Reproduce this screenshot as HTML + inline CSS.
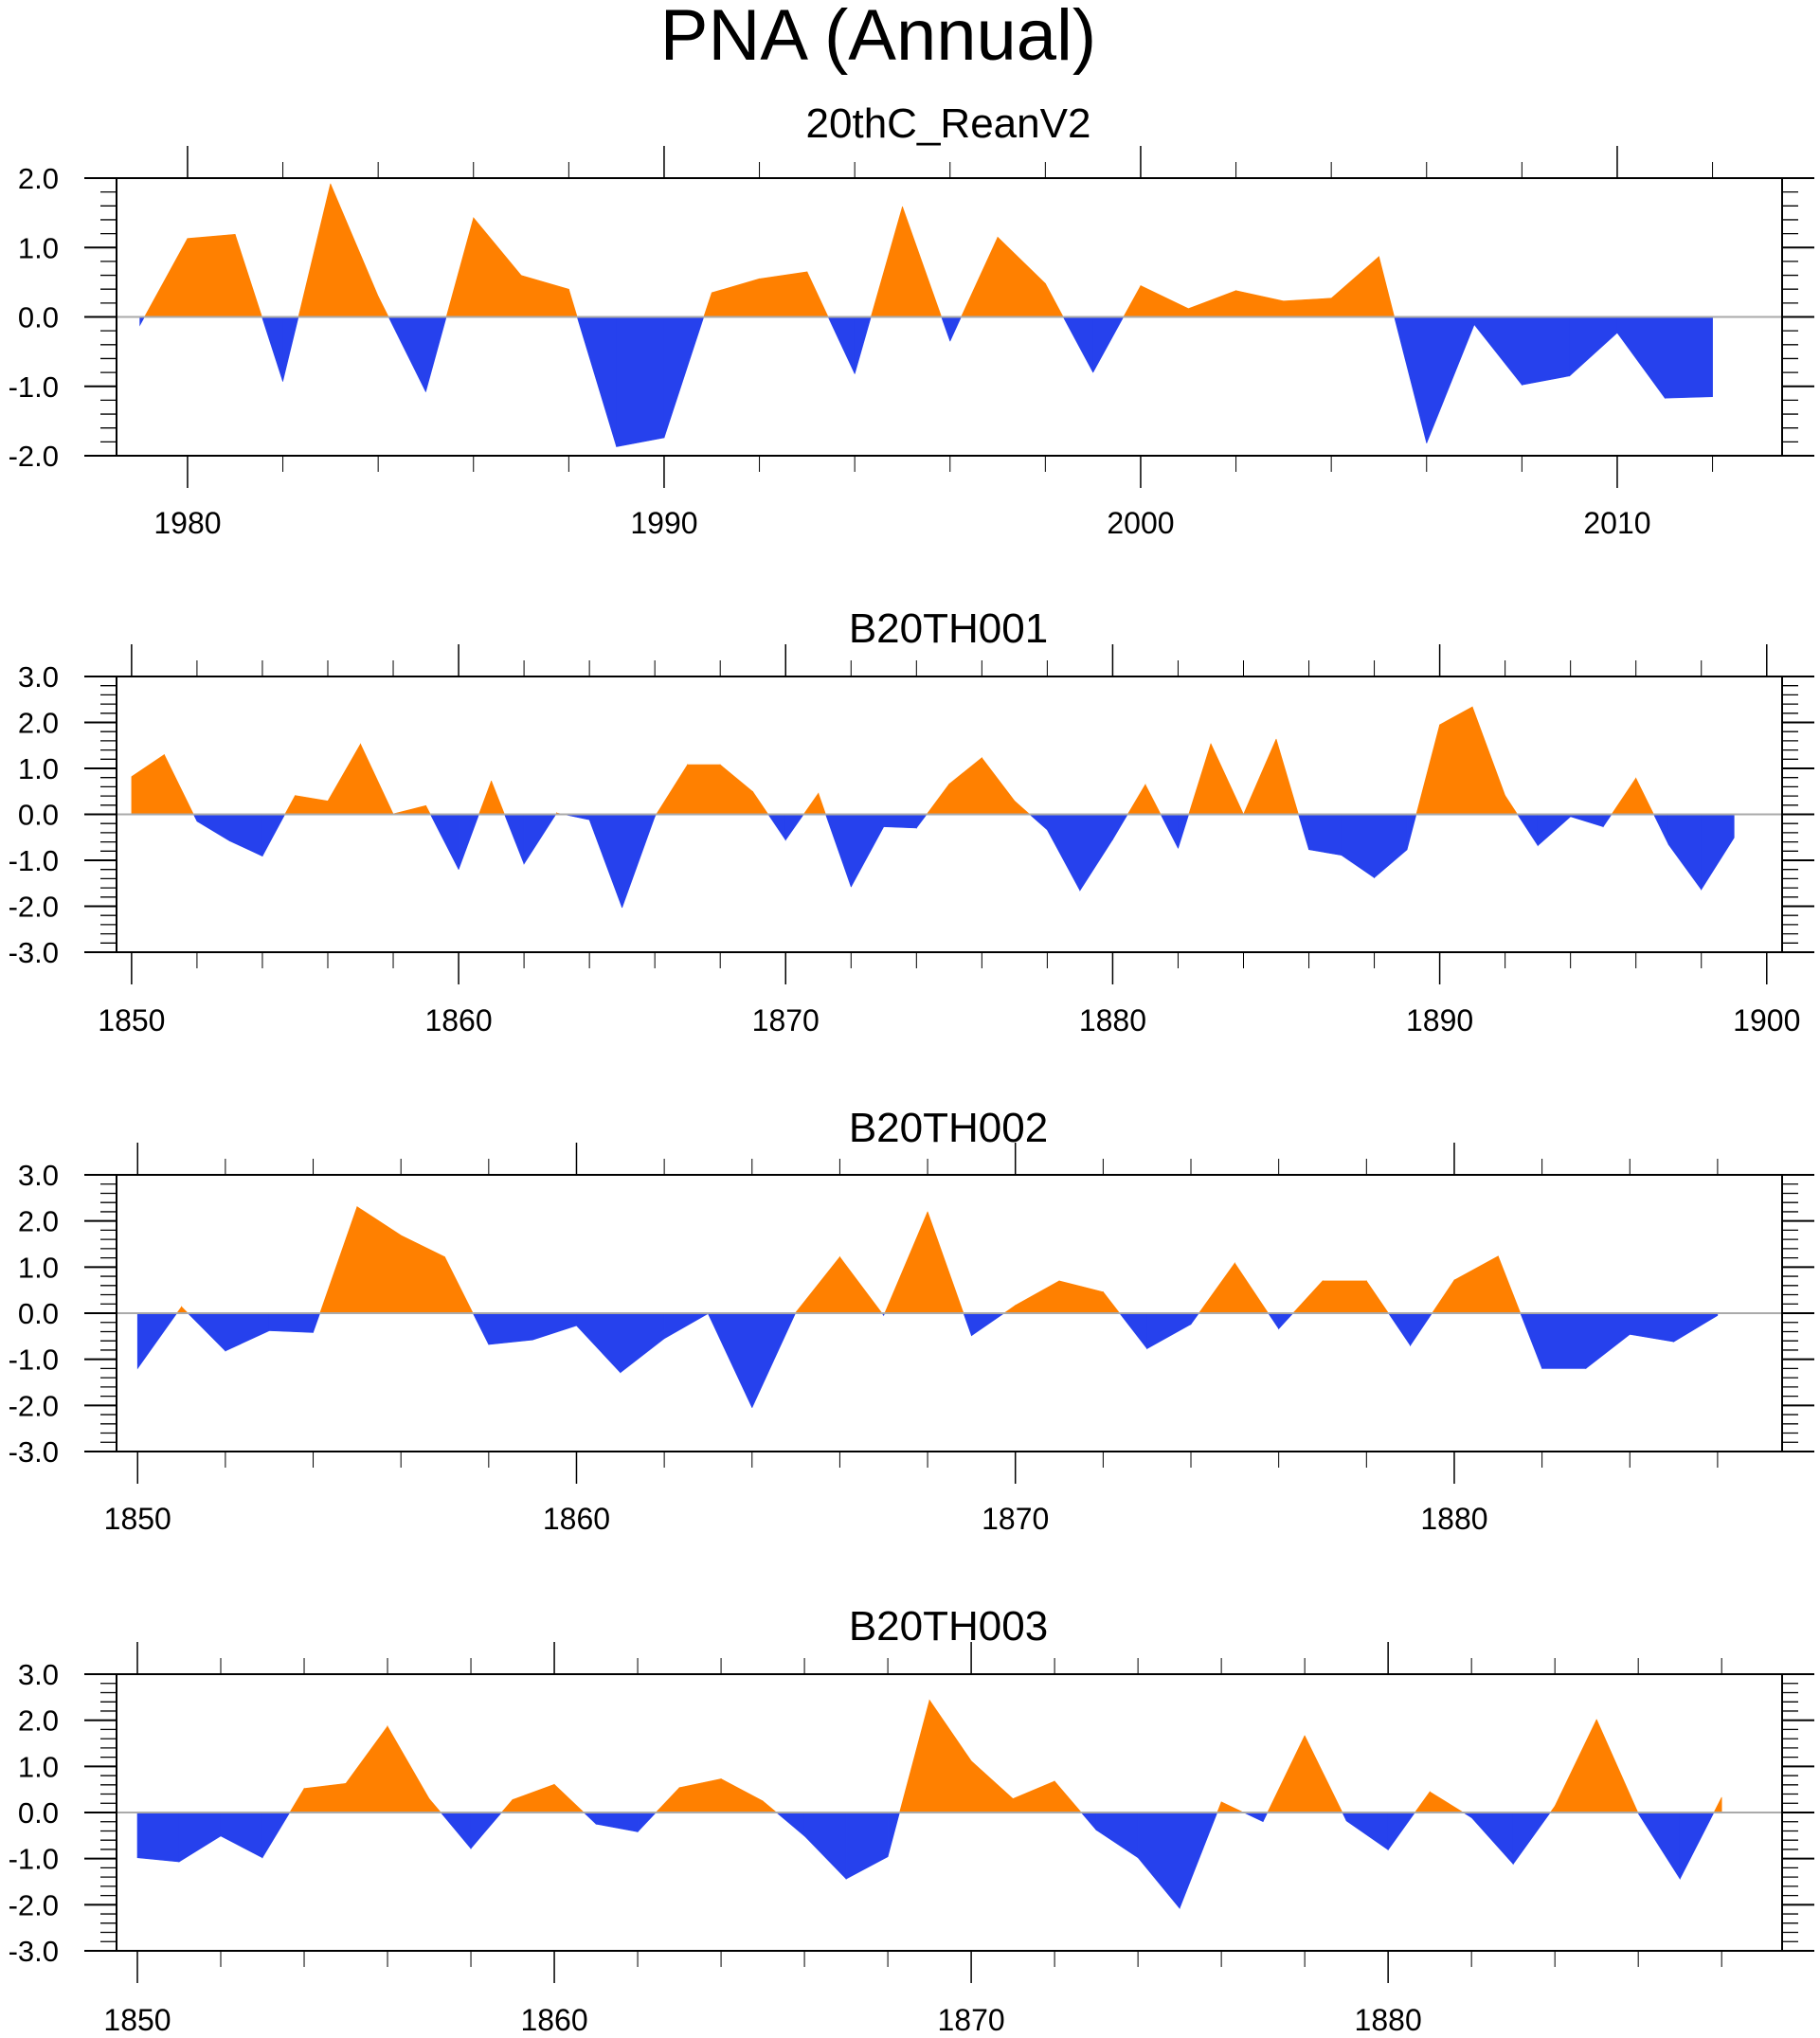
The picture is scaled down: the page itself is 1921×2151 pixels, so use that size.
<!DOCTYPE html>
<html><head><meta charset="utf-8">
<style>
html,body{margin:0;padding:0;background:#fff;}
svg{display:block;}
text{font-family:"Liberation Sans",sans-serif;fill:#000;}
</style></head>
<body>
<svg id="chart" width="1921" height="2151" viewBox="0 0 1921 2151" xmlns="http://www.w3.org/2000/svg">
<text x="927" y="63" font-size="76" text-anchor="middle">PNA (Annual)</text>
</svg>
<script>
const years1 = [1979,1980,1981,1982,1983,1984,1985,1986,1987,1988,1989,1990,1991,1992,1993,1994,1995,1996,1997,1998,1999,2000,2001,2002,2003,2004,2005,2006,2007,2008,2009,2010,2011,2012];
const values1 = [-0.12,1.13,1.19,-0.93,1.92,0.3,-1.08,1.43,0.6,0.4,-1.87,-1.74,0.35,0.55,0.65,-0.82,1.59,-0.35,1.15,0.48,-0.8,0.45,0.12,0.38,0.23,0.27,0.87,-1.82,-0.11,-0.98,-0.85,-0.23,-1.17,-1.15];
const startYear2 = 1850;
const values2 = [0.82,1.3,-0.15,-0.58,-0.91,0.41,0.29,1.53,0.01,0.19,-1.2,0.73,-1.08,0.03,-0.12,-2.03,-0.05,1.08,1.08,0.49,-0.56,0.46,-1.58,-0.27,-0.3,0.66,1.23,0.29,-0.34,-1.66,-0.55,0.65,-0.74,1.54,0.0,1.64,-0.77,-0.89,-1.38,-0.77,1.95,2.34,0.41,-0.68,-0.05,-0.27,0.79,-0.66,-1.64,-0.51];
const startYear3 = 1850;
const values3 = [-1.2,0.14,-0.82,-0.38,-0.42,2.31,1.69,1.22,-0.68,-0.58,-0.27,-1.29,-0.55,-0.01,-2.05,0.02,1.22,-0.05,2.2,-0.49,0.17,0.7,0.46,-0.77,-0.24,1.09,-0.34,0.7,0.7,-0.7,0.72,1.24,-1.2,-1.2,-0.46,-0.62,-0.05];
const startYear4 = 1850;
const values4 = [-0.98,-1.07,-0.51,-0.98,0.52,0.63,1.87,0.3,-0.78,0.28,0.61,-0.25,-0.42,0.54,0.73,0.25,-0.51,-1.44,-0.96,2.44,1.12,0.3,0.68,-0.38,-0.98,-2.08,0.23,-0.2,1.67,-0.18,-0.81,0.45,-0.11,-1.12,0.14,2.02,-0.02,-1.44,0.33];
const titles = ["20thC_ReanV2","B20TH001","B20TH002","B20TH003"];
const yTicks1 = ["2.0","1.0","0.0","-1.0","-2.0"];
const yTicks2 = ["3.0","2.0","1.0","0.0","-1.0","-2.0","-3.0"];
const xTicks1 = [1980,1990,2000,2010];
const xTicks2 = [1850,1860,1870,1880,1890,1900];
const xTicks3 = [1850,1860,1870,1880];

const NS="http://www.w3.org/2000/svg";
const svg=document.getElementById('chart');
function mk(tag,attrs,parent){const e=document.createElementNS(NS,tag);for(const k in attrs)e.setAttribute(k,attrs[k]);(parent||svg).appendChild(e);return e;}

const panels=[
 {years:years1, vals:values1, top:188, bottom:481, ymin:-2, ymax:2, x0:1978.51, x1:2013.46, yt:yTicks1, xt:xTicks1, title:titles[0], tb:145, lb:563, yfirst:1978, ylast:2014},
 {years:values2.map((v,i)=>startYear2+i), vals:values2, top:714, bottom:1005, ymin:-3, ymax:3, x0:1849.54, x1:1900.47, yt:yTicks2, xt:xTicks2, title:titles[1], tb:678, lb:1088, yfirst:1850, ylast:1900},
 {years:values3.map((v,i)=>startYear3+i), vals:values3, top:1240, bottom:1532, ymin:-3, ymax:3, x0:1849.52, x1:1887.47, yt:yTicks2, xt:xTicks3, title:titles[2], tb:1205, lb:1614, yfirst:1850, ylast:1886},
 {years:values4.map((v,i)=>startYear4+i), vals:values4, top:1767, bottom:2059, ymin:-3, ymax:3, x0:1849.5, x1:1889.45, yt:yTicks2, xt:xTicks3, title:titles[3], tb:1731, lb:2143, yfirst:1850, ylast:1888}
];
const L=123,R=1881,ORANGE="#ff8000",BLUE="#2641ed";

panels.forEach((p,pi)=>{
  const g=mk('g',{});
  
  
  const sx=y=>L+(y-p.x0)/(p.x1-p.x0)*(R-L);
  const sy=v=>p.top+(p.ymax-v)/(p.ymax-p.ymin)*(p.bottom-p.top);
  const t=mk('text',{x:1001,y:p.tb,'font-size':44,'text-anchor':'middle'},g);
  t.textContent=p.title;
  
  
  const z=sy(0);
  for(let i=0;i<p.vals.length-1;i++){
    const xa=sx(p.years[i]),xb=sx(p.years[i+1]),va=p.vals[i],vb=p.vals[i+1];
    const segs=[];
    if(va*vb<0){const f=va/(va-vb);const xc=xa+f*(xb-xa);
      segs.push([[xa,sy(va)],[xc,z],[xa,z]],[[xc,z],[xb,sy(vb)],[xb,z]]);
      segs[0].c=va>0?ORANGE:BLUE;segs[1].c=vb>0?ORANGE:BLUE;
    } else {const s=[[xa,z],[xa,sy(va)],[xb,sy(vb)],[xb,z]];s.c=(va+vb)>=0?ORANGE:BLUE;segs.push(s);}
    segs.forEach(s=>{
      const poly=mk('polygon',{points:s.map(q=>q[0].toFixed(1)+','+q[1].toFixed(1)).join(' '),fill:s.c,stroke:s.c,'stroke-width':0.6},g);
      
      
    });
  }
  const zl=mk('line',{x1:L,x2:R,y1:z,y2:z,stroke:'#aaa','stroke-width':2},g);
  
  
  const fr=mk('rect',{x:L,y:p.top,width:R-L,height:p.bottom-p.top,fill:'none',stroke:'#000','stroke-width':2},g);
  
  
  for(let v=p.ymin;v<=p.ymax+1e-6;v+=0.2){
    const vv=Math.round(v*10)/10;const major=Math.abs(vv-Math.round(vv))<1e-6;const len=major?34:17;const y=sy(vv);
    mk('line',{x1:L-len,x2:L,y1:y,y2:y,stroke:'#000','stroke-width':major?2:1.3},g);
    mk('line',{x1:R,x2:R+len,y1:y,y2:y,stroke:'#000','stroke-width':major?2:1.3},g);
  }
  p.yt.forEach(lbl=>{
    const tx=mk('text',{x:62,y:sy(parseFloat(lbl))+11,'font-size':31,'text-anchor':'end'},g);
    tx.textContent=lbl;
    
    
  });
  for(let yr=p.yfirst;yr<=p.ylast;yr+=2){
    const x=sx(yr); if(x<L-1||x>R+1) continue;
    const major=yr%10===0;const len=major?34:17;
    mk('line',{x1:x,x2:x,y1:p.top-len,y2:p.top,stroke:'#000','stroke-width':major?1.5:1},g);
    mk('line',{x1:x,x2:x,y1:p.bottom,y2:p.bottom+len,stroke:'#000','stroke-width':major?1.5:1},g);
  }
  p.xt.forEach(yr=>{
    const tx=mk('text',{x:sx(yr),y:p.lb,'font-size':32,'text-anchor':'middle'},g);
    tx.textContent=String(yr);
    
    
  });
});
</script>
</body></html>
